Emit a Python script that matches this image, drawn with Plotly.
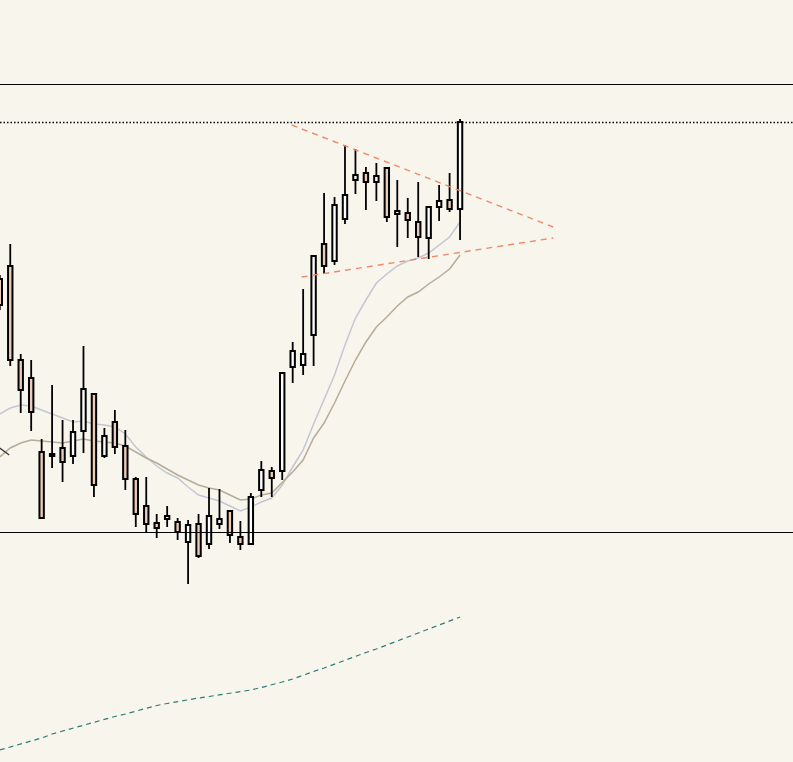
import plotly.graph_objects as go

idx = list(range(45))
opens = [15.06, 15.32, 13.44, 13.08, 11.60, 11.56, 11.68, 11.52, 12.02, 12.76,
         11.52, 12.20, 11.72, 11.06, 10.52, 10.18, 10.26, 10.20, 9.80, 10.16,
         9.76, 10.16, 10.42, 9.90, 9.76, 10.84, 11.22, 11.22, 13.30, 13.34,
         13.94, 15.76, 15.42, 16.26, 17.04, 17.18, 17.00, 17.28, 16.36, 16.38,
         16.20, 15.88, 16.50, 16.64, 16.46]
highs = [15.14, 15.76, 13.56, 13.44, 11.86, 12.94, 12.24, 12.24, 13.72, 12.78,
         12.08, 12.44, 12.04, 11.10, 11.10, 10.36, 10.52, 10.28, 10.24, 10.36,
         10.88, 10.86, 10.42, 10.22, 10.78, 11.42, 11.30, 13.18, 13.80, 14.86,
         15.52, 16.78, 16.70, 17.74, 17.66, 17.30, 17.38, 17.28, 17.04, 16.68,
         17.00, 16.50, 16.94, 17.18, 18.26]
lows = [14.44, 13.32, 12.38, 12.02, 10.28, 11.28, 11.00, 11.36, 11.58, 10.70,
        11.48, 11.56, 10.84, 10.10, 10.00, 9.88, 10.10, 9.84, 8.96, 9.48,
        9.66, 10.06, 9.78, 9.64, 9.76, 10.70, 10.70, 11.04, 12.98, 13.14,
        13.32, 15.16, 15.34, 16.16, 16.76, 16.44, 16.62, 16.20, 15.70, 15.88,
        15.50, 15.46, 16.22, 16.40, 15.84]
closes = [14.54, 13.44, 12.84, 12.40, 10.28, 11.52, 11.40, 12.00, 12.86, 10.94,
          11.92, 11.70, 11.06, 10.36, 10.16, 10.08, 10.32, 10.00, 10.14, 9.52,
          10.32, 10.26, 9.94, 9.76, 10.70, 11.24, 11.08, 13.18, 13.62, 13.56,
          15.52, 15.32, 16.54, 16.74, 17.14, 17.00, 17.12, 16.30, 16.42, 16.24,
          15.90, 16.50, 16.62, 16.46, 18.20]

ma_fast = [12.36, 12.48, 12.54, 12.52, 12.44, 12.36, 12.28, 12.20, 12.22, 12.16,
           12.14, 12.10, 11.96, 11.70, 11.50, 11.32, 11.18, 11.08, 10.90, 10.74,
           10.68, 10.62, 10.52, 10.42, 10.50, 10.60, 10.68, 10.94, 11.30, 11.64,
           12.16, 12.64, 13.14, 13.74, 14.28, 14.64, 14.98, 15.16, 15.32, 15.42,
           15.48, 15.58, 15.74, 15.90, 16.20]
ma_slow = [11.50, 11.68, 11.78, 11.84, 11.82, 11.80, 11.78, 11.82, 11.86, 11.82,
           11.80, 11.78, 11.72, 11.60, 11.48, 11.38, 11.26, 11.14, 11.04, 10.94,
           10.88, 10.84, 10.74, 10.64, 10.66, 10.74, 10.78, 10.98, 11.20, 11.44,
           11.88, 12.18, 12.58, 13.02, 13.44, 13.80, 14.10, 14.30, 14.52, 14.70,
           14.80, 14.96, 15.10, 15.26, 15.54]
ma_long_x = [0, 0.9]
ma_long = [11.68, 11.54]
ma_trend = [5.64, 5.70, 5.76, 5.82, 5.88, 5.96, 6.02, 6.08, 6.14, 6.19,
            6.25, 6.31, 6.36, 6.42, 6.48, 6.53, 6.57, 6.61, 6.64, 6.68,
            6.71, 6.74, 6.78, 6.81, 6.84, 6.89, 6.94, 7.00, 7.06, 7.14,
            7.21, 7.28, 7.36, 7.43, 7.51, 7.59, 7.66, 7.74, 7.82, 7.90,
            7.98, 8.06, 8.14, 8.22, 8.30]

upper_x = [27.9, 52.9]
upper_y = [18.14, 16.10]
lower_x = [28.85, 52.9]
lower_y = [15.10, 15.88]

level_top = 18.95
level_last = 18.19
level_support = 9.99

BG = "#f8f5ed"
UP_FILL = "#ffffff"
DOWN_FILL = "#eecbb8"
X_RANGE = [0.019, 75.83]
Y_RANGE = [5.40, 20.64]

body_lo = [min(o, c) for o, c in zip(opens, closes)]
body_hi = [max(o, c) for o, c in zip(opens, closes)]
body_h = [h - l for h, l in zip(body_hi, body_lo)]
body_col = [UP_FILL if c > o else DOWN_FILL for o, c in zip(opens, closes)]

wick_x, wick_y = [], []
for i, h, l, bh, bl in zip(idx, highs, lows, body_hi, body_lo):
    if h > bh:
        wick_x += [i, i, None]
        wick_y += [h, bh, None]
    if l < bl:
        wick_x += [i, i, None]
        wick_y += [bl, l, None]

fig = go.Figure()

# indicator lines (bottom subplot layer)
fig.add_trace(go.Scatter(x=idx, y=ma_trend, mode="lines",
                         line=dict(color="#2c7d78", width=1.2, dash="5px,4px"),
                         hoverinfo="skip", showlegend=False))
fig.add_trace(go.Scatter(x=idx, y=ma_fast, mode="lines",
                         line=dict(color="#c4c7d2", width=1.5),
                         hoverinfo="skip", showlegend=False))
fig.add_trace(go.Scatter(x=idx, y=ma_slow, mode="lines",
                         line=dict(color="#b6ac98", width=1.5),
                         hoverinfo="skip", showlegend=False))
fig.add_trace(go.Scatter(x=ma_long_x, y=ma_long, mode="lines",
                         line=dict(color="#333333", width=1.2),
                         hoverinfo="skip", showlegend=False))

# candles (overlay subplot, drawn on top)
fig.add_trace(go.Bar(x=idx, y=body_h, base=body_lo, width=0.42,
                     marker=dict(color=body_col, line=dict(color="#000000", width=2)),
                     xaxis="x2", yaxis="y2", hoverinfo="skip", showlegend=False))
fig.add_trace(go.Scatter(x=wick_x, y=wick_y, mode="lines",
                         line=dict(color="#000000", width=1.8),
                         xaxis="x2", yaxis="y2", hoverinfo="skip", showlegend=False))

fig.add_trace(go.Scatter(x=upper_x, y=upper_y, mode="lines",
                         line=dict(color="#ee8a6a", width=1.4, dash="6px,5px"),
                         xaxis="x2", yaxis="y2", hoverinfo="skip", showlegend=False))
fig.add_trace(go.Scatter(x=lower_x, y=lower_y, mode="lines",
                         line=dict(color="#ee8a6a", width=1.4, dash="6px,5px"),
                         xaxis="x2", yaxis="y2", hoverinfo="skip", showlegend=False))

fig.add_hline(y=level_top, line=dict(color="#000000", width=1))
fig.add_hline(y=level_last, line=dict(color="#000000", width=1.5, dash="1.5px,2px"))
fig.add_hline(y=level_support, line=dict(color="#000000", width=1))

fig.update_layout(
    width=793, height=762,
    margin=dict(l=0, r=0, t=0, b=0),
    paper_bgcolor=BG, plot_bgcolor=BG,
    barmode="overlay",
    xaxis=dict(range=X_RANGE, visible=False, showgrid=False, zeroline=False),
    yaxis=dict(range=Y_RANGE, visible=False, showgrid=False, zeroline=False),
    xaxis2=dict(range=X_RANGE, visible=False, overlaying="x", showgrid=False, zeroline=False),
    yaxis2=dict(range=Y_RANGE, visible=False, overlaying="y", showgrid=False, zeroline=False),
    showlegend=False,
)

fig.write_html("out.html", config={"displayModeBar": False},
               post_script="document.body.style.margin='0';document.body.style.background='" + BG + "';")
